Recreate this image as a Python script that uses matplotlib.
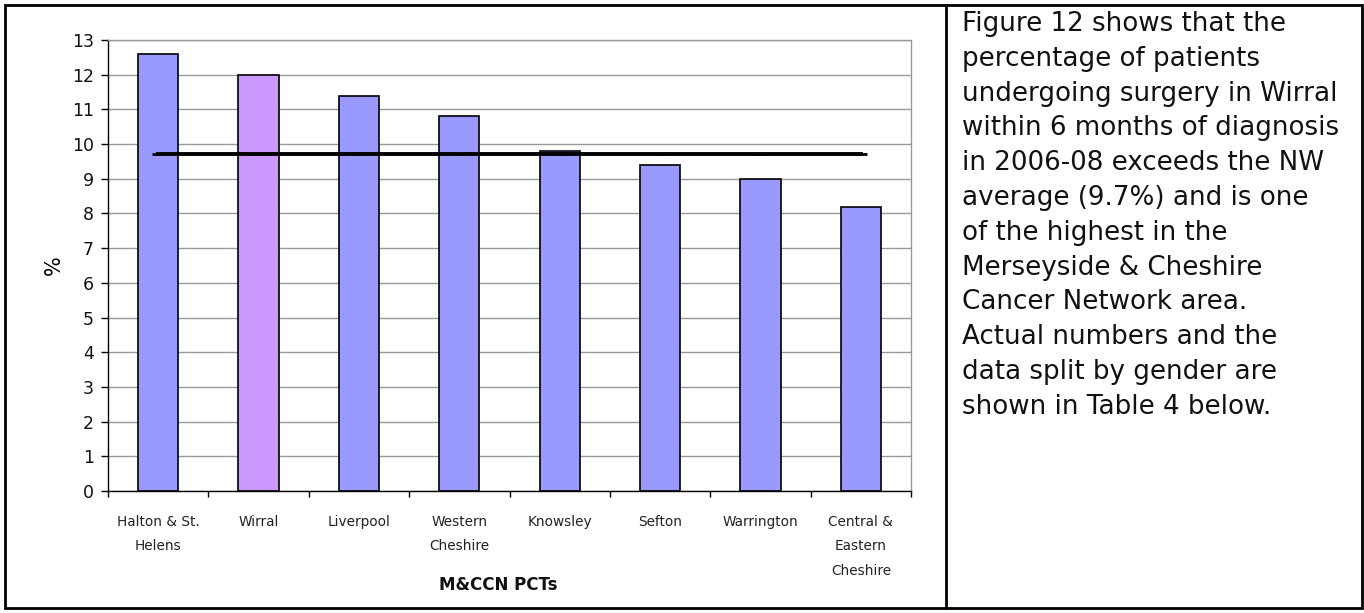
import matplotlib
matplotlib.use("Agg")
import matplotlib.pyplot as plt
from matplotlib.patches import Rectangle
from matplotlib.lines import Line2D

categories = ["Halton & St.\nHelens", "Wirral", "Liverpool", "Western\nCheshire",
              "Knowsley", "Sefton", "Warrington", "Central &\nEastern\nCheshire"]
pct_surgery = [12.6, 12.0, 11.4, 10.8, 9.8, 9.4, 9.0, 8.2]
nw_average = [9.7] * len(categories)
highlight = "Wirral"
y_ticks = list(range(0, 14))

blue = "#9999FF"
purple = "#CC99FF"

plt.rcParams["font.family"] = ["DejaVu Sans"]

fig = plt.figure(figsize=(13.64, 6.13), dpi=100)

# outer frame and divider between chart and commentary
fig.add_artist(Rectangle((5 / 1364, 5 / 613), 1357 / 1364, 603 / 613, transform=fig.transFigure,
                         fill=False, edgecolor="black", linewidth=2))
fig.add_artist(Line2D([946 / 1364, 946 / 1364], [5 / 613, 608 / 613], transform=fig.transFigure,
                      color="black", linewidth=2))

ax = fig.add_axes([108 / 1364, 122 / 613, (911 - 108) / 1364, (491 - 40) / 613])

x = list(range(len(categories)))
colors = [purple if c == highlight else blue for c in categories]
ax.bar(x, pct_surgery, width=0.4, color=colors, edgecolor="black", linewidth=1.2, zorder=2)
ax.plot(x, nw_average, color="black", linewidth=2.8, marker="_", markersize=9,
        markeredgewidth=2, zorder=3)

ax.set_xlim(-0.5, len(categories) - 0.5)
ax.set_ylim(0, 13)
ax.set_yticks(y_ticks)
ax.set_yticklabels([str(t) for t in y_ticks], fontsize=12.5, color="#111111")
ax.yaxis.grid(True, color="#999999", linewidth=1)
ax.set_axisbelow(True)

ax.set_xticks([i - 0.5 for i in range(len(categories) + 1)])
ax.set_xticklabels([])
ax.set_xticks(x, minor=True)
ax.set_xticklabels(categories, minor=True, fontsize=9.8, color="#222222", linespacing=1.95,
                   va="top")
ax.tick_params(axis="x", which="minor", length=0, pad=17)
ax.tick_params(axis="x", which="major", direction="out", length=4, width=1)
ax.tick_params(axis="y", direction="out", length=5, width=1, pad=5)

for side in ["top", "right"]:
    ax.spines[side].set_color("#999999")
    ax.spines[side].set_linewidth(1)
for side in ["left", "bottom"]:
    ax.spines[side].set_color("black")
    ax.spines[side].set_linewidth(1)

ax.set_ylabel("%", fontsize=15, labelpad=6)
fig.text(498 / 1364, 1 - 585 / 613, "M&CCN PCTs", ha="center", va="center",
         fontsize=12, fontweight="bold", color="#111111")

commentary = ("Figure 12 shows that the\npercentage of patients\nundergoing surgery in Wirral\n"
              "within 6 months of diagnosis\nin 2006-08 exceeds the NW\naverage (9.7%) and is one\n"
              "of the highest in the\nMerseyside & Cheshire\nCancer Network area.\n"
              "Actual numbers and the\ndata split by gender are\nshown in Table 4 below.")
fig.text(962 / 1364, 1 - 11 / 613, commentary, ha="left", va="top", fontsize=18.8,
         linespacing=1.44, color="#111111")

fig.savefig("out.png", dpi=100)
